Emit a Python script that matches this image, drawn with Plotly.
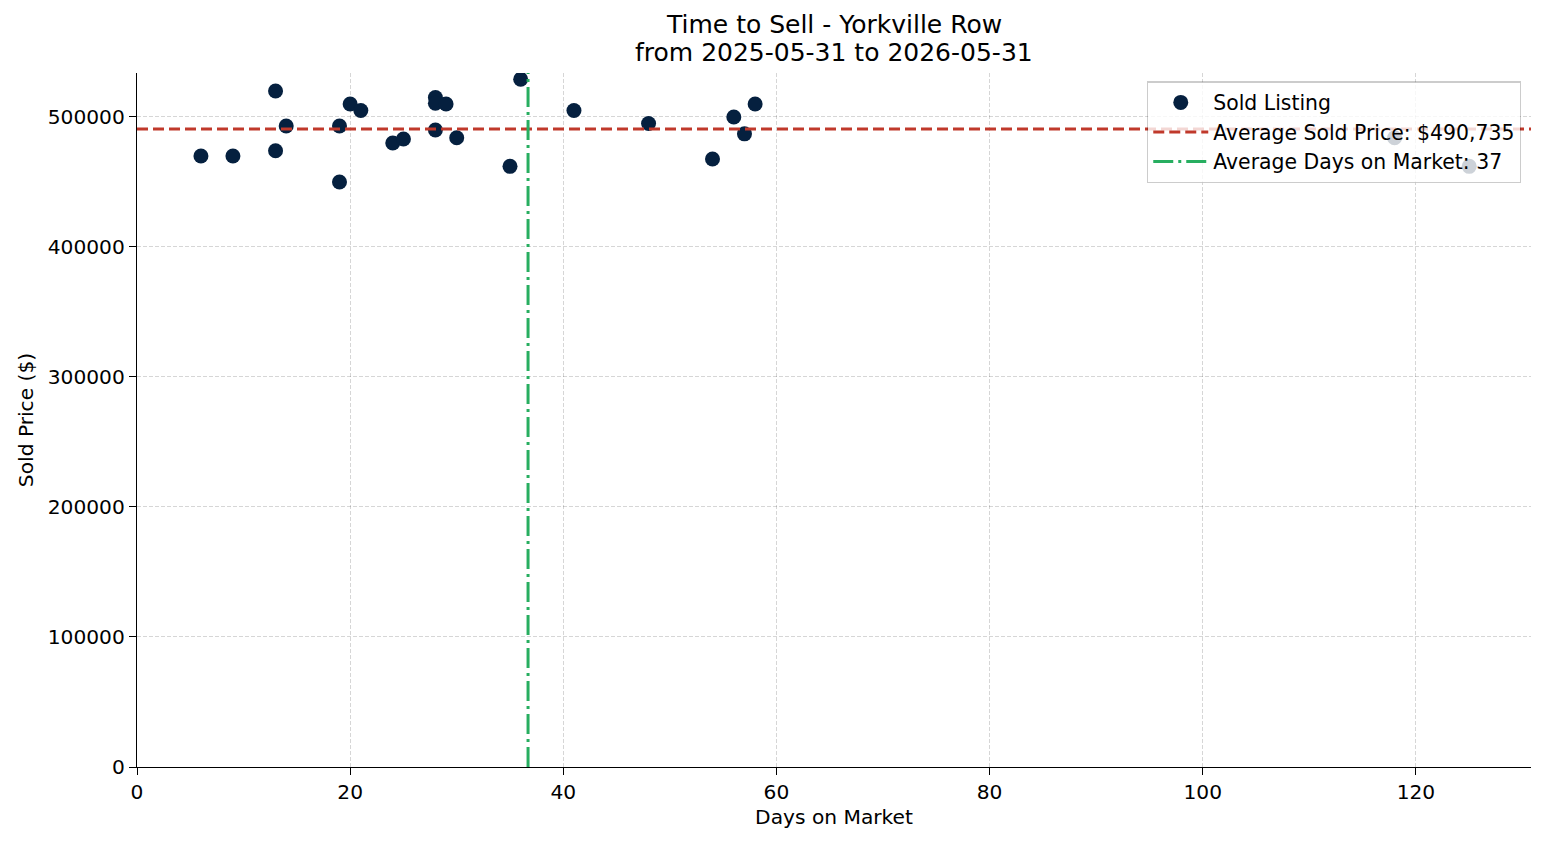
import plotly.graph_objects as go

days = [6, 9, 13, 13, 14, 19, 19, 20, 21, 24, 25, 28, 28, 29, 28, 30, 35, 36, 41, 48, 54, 56, 57, 58, 118, 125]
prices = [470000, 470000, 520000, 474000, 493000, 493000, 450000, 510000, 505000, 480000, 483000,
          515000, 510500, 510000, 490000, 484000, 462000, 529000, 505000, 495000, 467700, 500000,
          487000, 510000, 484000, 462000]
avg_price = 490735
avg_days = sum(days) / len(days)

x_range = [0, 130.8]
y_range = [0, 533800]
x_ticks = [0, 20, 40, 60, 80, 100, 120]
y_ticks = [0, 100000, 200000, 300000, 400000, 500000]

title_lines = ["Time to Sell - Yorkville Row", "from 2025-05-31 to 2026-05-31"]

font = "DejaVu Sans, Verdana, sans-serif"

fig = go.Figure()
fig.add_trace(go.Scatter(
    x=days, y=prices, mode="markers", name="Sold Listing",
    marker=dict(color="#05203f", size=15, line=dict(width=0)),
))
fig.add_trace(go.Scatter(
    x=x_range, y=[avg_price, avg_price], mode="lines",
    name=f"Average Sold Price: ${avg_price:,.0f}",
    line=dict(color="#c0392b", width=3, dash="11px,5px"),
))
fig.add_trace(go.Scatter(
    x=[avg_days, avg_days], y=y_range, mode="lines",
    name=f"Average Days on Market: {avg_days:.0f}",
    line=dict(color="#27ae60", width=3, dash="20px,5px,3px,5px"),
))

axis_common = dict(
    showgrid=True, gridcolor="rgba(0,0,0,0.16)", griddash="4px,2px", gridwidth=0.8,
    showline=True, linecolor="black", linewidth=1.3,
    ticks="outside", ticklen=7, tickcolor="black", tickwidth=1.3,
    tickfont=dict(size=20.2, color="black", family=font),
    zeroline=False, mirror=False,
)

fig.update_layout(
    width=1547, height=845,
    margin=dict(l=137, r=16, t=73, b=78),
    paper_bgcolor="white", plot_bgcolor="white",
    font=dict(family=font, color="black"),
    xaxis=dict(axis_common, range=x_range, tickvals=x_ticks,
               title=dict(text="Days on Market", font=dict(size=20.2, family=font), standoff=6)),
    yaxis=dict(axis_common, range=y_range, tickvals=y_ticks, tickformat="d",
               title=dict(text="Sold Price ($)", font=dict(size=20.2, family=font), standoff=8)),
    legend=dict(
        x=0.9928, xanchor="right", y=0.988, yanchor="top",
        bgcolor="rgba(255,255,255,0.8)", bordercolor="rgba(0,0,0,0.2)", borderwidth=1.3,
        font=dict(size=20.4, family=font, color="black"),
        itemsizing="trace", itemwidth=55,
        tracegroupgap=0,
    ),
    showlegend=True,
)

for txt, py in zip(title_lines, [25, 53]):
    fig.add_annotation(
        text=txt, xref="paper", yref="paper",
        x=0.5, xanchor="center",
        y=(767 - py) / 694, yanchor="middle",
        showarrow=False, font=dict(size=25, family=font, color="black"),
    )

fig.write_html("out.html")
